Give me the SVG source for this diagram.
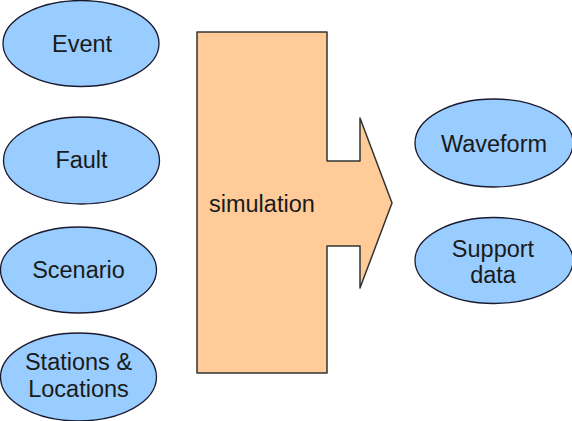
<svg xmlns="http://www.w3.org/2000/svg" width="572" height="421" viewBox="0 0 572 421">
<style>
.n{fill:#99ccff;stroke:#1a1a2e;stroke-width:1.3}
.t{font-family:"Liberation Sans",Arial,sans-serif;font-size:23.5px;fill:#1a1a1a;text-anchor:middle}
.sim{fill:#ffcc99;stroke:#333;stroke-width:1.5;stroke-linejoin:round}
</style>
<rect width="572" height="421" fill="#fff"/>
<g id="event"><ellipse class="n" cx="81" cy="43.5" rx="78" ry="43"/><text class="t" x="82" y="52">Event</text></g>
<g id="fault"><ellipse class="n" cx="81.5" cy="160.5" rx="78" ry="43.5"/><text class="t" x="81.5" y="168">Fault</text></g>
<g id="scenario"><ellipse class="n" cx="78.5" cy="270" rx="78" ry="43"/><text class="t" x="78.5" y="278">Scenario</text></g>
<g id="stations"><ellipse class="n" cx="78.5" cy="377" rx="78" ry="44"/><text class="t" x="78.5" y="370">Stations &amp;</text><text class="t" x="78.5" y="397">Locations</text></g>
<g id="simulation"><path class="sim" d="M197,32 H327 V161 H360 V118 L392,203 L360,288 V246 H327 V373 H197 Z"/><text class="t" x="209" y="212" style="text-anchor:start">simulation</text></g>
<g id="waveform"><ellipse class="n" cx="494" cy="143" rx="79" ry="44"/><text class="t" x="494" y="152">Waveform</text></g>
<g id="support"><ellipse class="n" cx="494" cy="260.5" rx="79" ry="43"/><text class="t" x="493" y="257">Support</text><text class="t" x="493" y="283">data</text></g>
<g id="connectors"></g>
</svg>
